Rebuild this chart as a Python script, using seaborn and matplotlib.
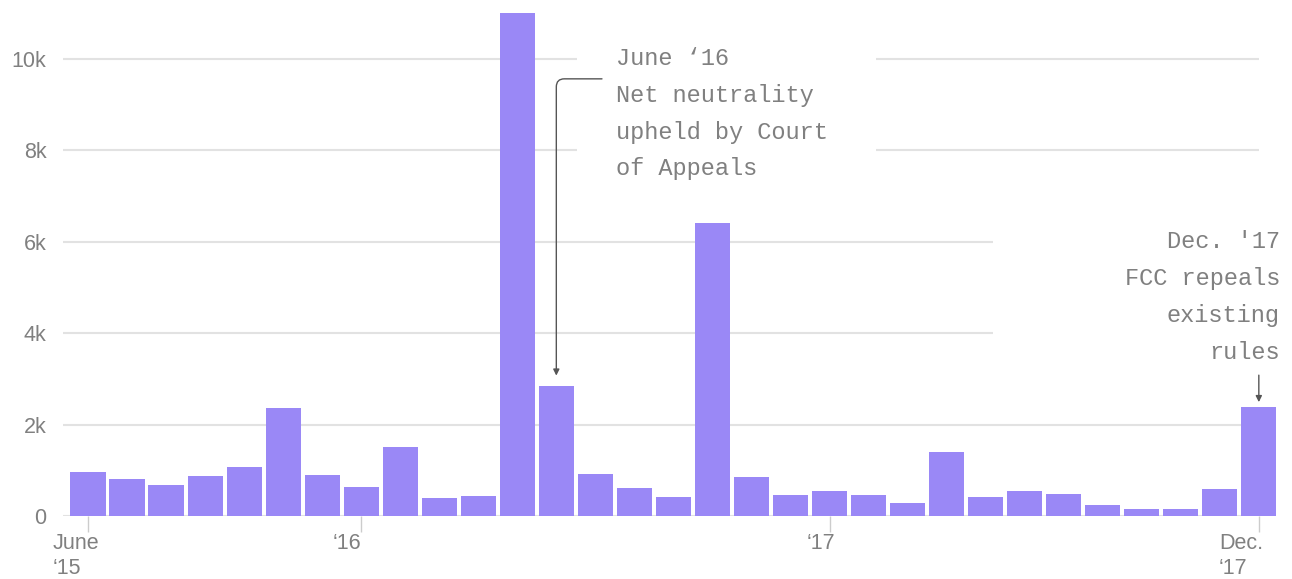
import matplotlib
matplotlib.use('Agg')
import matplotlib.pyplot as plt
import matplotlib.transforms as mtransforms
from matplotlib.patches import Rectangle
import pandas as pd
import seaborn as sns

# Monthly values, June 2015 - Dec 2017
months = pd.date_range('2015-06-01', '2017-12-01', freq='MS').strftime('%Y-%m').tolist()
counts = [970, 800, 680, 870, 1080, 2360, 900, 630, 1500, 400,
          440, 11000, 2850, 920, 620, 410, 6410, 850, 470, 550,
          450, 280, 1400, 410, 550, 490, 230, 150, 150, 600, 2380]
tick_months = ['2015-06', '2016-01', '2017-01', '2017-12']
tick_labels = ['June\n\u201815', '\u201816', '\u201817', 'Dec.\n\u201817']
y_ticks = [0, 2000, 4000, 6000, 8000, 10000]
y_labels = ['0', '2k', '4k', '6k', '8k', '10k']

df = pd.DataFrame({'month': months, 'count': counts})

sns.set_style('white')
plt.rcParams['font.family'] = ['Liberation Sans', 'DejaVu Sans']

bar_color = '#9a88f6'
text_gray = '#808080'
grid_gray = '#e2e2e2'

fig = plt.figure(figsize=(12.92, 5.79), dpi=100)
ax = fig.add_axes([63 / 1292, 63 / 579, 1 - 63 / 1292, (516 - 13) / 579])

sns.barplot(data=df, x='month', y='count', color=bar_color, saturation=1,
            width=0.9, linewidth=0, ax=ax, zorder=2)

ax.set_xlim(-0.64, 30.85)
ax.set_ylim(0, 11000)
sns.despine(ax=ax, left=True, bottom=True)
ax.set_xlabel('')
ax.set_ylabel('')

# gridlines stop at the last month
ax.hlines(y_ticks, -0.64, 30, color=grid_gray, lw=1.5, zorder=0.2)

# white boxes behind the annotations break the gridlines
ax.add_patch(Rectangle((12.53, 7230), 7.66, 3620, facecolor='white',
                       edgecolor='none', zorder=0.5))
ax.add_patch(Rectangle((23.19, 3190), 8.0, 3380, facecolor='white',
                       edgecolor='none', zorder=0.5, clip_on=False))

ax.set_yticks(y_ticks, y_labels)
tick_pos = [months.index(m) for m in tick_months]
ax.set_xticks(tick_pos, tick_labels)
ax.tick_params(axis='y', length=0, pad=12, labelsize=15.5, labelcolor=text_gray)
ax.tick_params(axis='x', length=11.5, width=1, color='#cccccc', pad=1,
               labelsize=15.5, labelcolor=text_gray, direction='out', bottom=True)
for lab, dx in zip(ax.get_xticklabels(), [-0.12, -0.14, -0.09, -0.18]):
    lab.set_multialignment('left')
    lab.set_transform(lab.get_transform() +
                      mtransforms.ScaledTranslation(dx, 0, fig.dpi_scale_trans))

mono = ['Liberation Mono', 'DejaVu Sans Mono']
ax.text(13.53, 10260, 'June \u201816\nNet neutrality\nupheld by Court\nof Appeals',
        family=mono, fontsize=17, color=text_gray, ha='left', va='top',
        linespacing=1.77, zorder=3)
ax.text(30.54, 6250, "Dec. '17\nFCC repeals\nexisting\nrules",
        family=mono, fontsize=17, color=text_gray, ha='right', va='top',
        linespacing=1.77, multialignment='right', zorder=3, clip_on=False)

jun16 = months.index('2016-06')
ax.annotate('', xy=(jun16, counts[jun16] + 220), xytext=(13.17, 9560),
            arrowprops=dict(arrowstyle='-|>', color='#555555', lw=1,
                            shrinkA=0, shrinkB=0, mutation_scale=9,
                            connectionstyle='angle,angleA=0,angleB=90,rad=8'),
            zorder=3)
dec17 = months.index('2017-12')
ax.annotate('', xy=(dec17, counts[dec17] + 110), xytext=(dec17, 3080),
            arrowprops=dict(arrowstyle='-|>', color='#555555', lw=1,
                            shrinkA=0, shrinkB=0, mutation_scale=9),
            zorder=3, annotation_clip=False)

fig.savefig('out.png', dpi=100)
